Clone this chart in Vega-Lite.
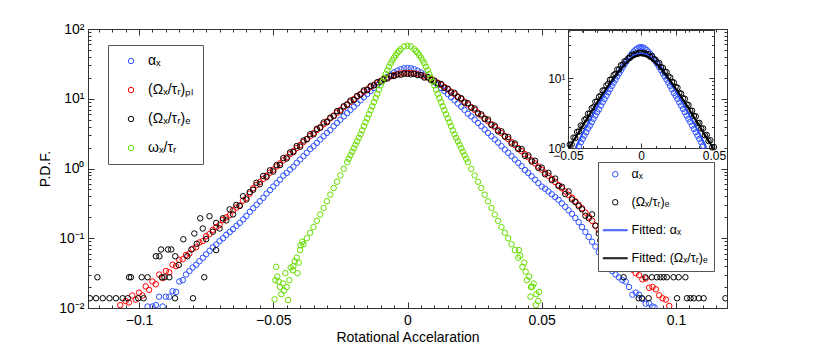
{
"$schema":"https://vega.github.io/schema/vega-lite/v6.json",
"width":639,"height":279,
"autosize":{"type":"none"},
"padding":{"left":88,"top":29,"right":103,"bottom":36},
"background":"white",
"config":{"font":"Liberation Sans","view":{"stroke":null},
 "axis":{"grid":false,"domainColor":"#333","tickColor":"#333","labelColor":"#000","titleColor":"#000","titleFontWeight":"normal","labelFontSize":14,"titleFontSize":14,"domainWidth":1,"tickWidth":1,"labelFlush":false,"labelOverlap":false,"labelBound":false}},
"datasets":{
"main":[
{"x":-0.0968,"p":0.0105,"s":"a"},{"x":-0.095,"p":0.0105,"s":"a"},{"x":-0.0937,"p":0.011,"s":"a"},{"x":-0.0925,"p":0.0145,"s":"a"},{"x":-0.0912,"p":0.0105,"s":"a"},{"x":-0.09,"p":0.0145,"s":"a"},{"x":-0.0887,"p":0.0145,"s":"a"},{"x":-0.0875,"p":0.0174,"s":"a"},{"x":-0.0862,"p":0.017,"s":"a"},{"x":-0.085,"p":0.024,"s":"a"},{"x":-0.0837,"p":0.0251,"s":"a"},{"x":-0.0825,"p":0.0302,"s":"a"},{"x":-0.0812,"p":0.0339,"s":"a"},{"x":-0.08,"p":0.038,"s":"a"},{"x":-0.0787,"p":0.0417,"s":"a"},{"x":-0.0775,"p":0.0468,"s":"a"},{"x":-0.0762,"p":0.0525,"s":"a"},{"x":-0.075,"p":0.0589,"s":"a"},{"x":-0.0737,"p":0.0661,"s":"a"},{"x":-0.0725,"p":0.0741,"s":"a"},{"x":-0.0712,"p":0.0813,"s":"a"},{"x":-0.07,"p":0.0912,"s":"a"},{"x":-0.0687,"p":0.1,"s":"a"},{"x":-0.0675,"p":0.112,"s":"a"},{"x":-0.0662,"p":0.123,"s":"a"},{"x":-0.065,"p":0.135,"s":"a"},{"x":-0.0637,"p":0.151,"s":"a"},{"x":-0.0625,"p":0.166,"s":"a"},{"x":-0.0612,"p":0.186,"s":"a"},{"x":-0.06,"p":0.209,"s":"a"},{"x":-0.0587,"p":0.24,"s":"a"},{"x":-0.0575,"p":0.269,"s":"a"},{"x":-0.0562,"p":0.302,"s":"a"},{"x":-0.055,"p":0.339,"s":"a"},{"x":-0.0537,"p":0.38,"s":"a"},{"x":-0.0525,"p":0.437,"s":"a"},{"x":-0.0512,"p":0.49,"s":"a"},
{"x":-0.05,"p":0.55,"s":"a"},{"x":-0.04875,"p":0.617,"s":"a"},{"x":-0.0475,"p":0.692,"s":"a"},{"x":-0.04625,"p":0.79,"s":"a"},{"x":-0.045,"p":0.863,"s":"a"},{"x":-0.04375,"p":0.966,"s":"a"},{"x":-0.0425,"p":1.06,"s":"a"},{"x":-0.04125,"p":1.205,"s":"a"},{"x":-0.04,"p":1.346,"s":"a"},{"x":-0.03875,"p":1.503,"s":"a"},{"x":-0.0375,"p":1.679,"s":"a"},{"x":-0.03625,"p":1.9,"s":"a"},{"x":-0.035,"p":2.089,"s":"a"},{"x":-0.03375,"p":2.333,"s":"a"},{"x":-0.0325,"p":2.606,"s":"a"},{"x":-0.03125,"p":2.904,"s":"a"},{"x":-0.03,"p":3.243,"s":"a"},{"x":-0.02875,"p":3.56,"s":"a"},{"x":-0.0275,"p":4.036,"s":"a"},{"x":-0.02625,"p":4.498,"s":"a"},{"x":-0.025,"p":5.012,"s":"a"},{"x":-0.02375,"p":5.585,"s":"a"},{"x":-0.0225,"p":6.223,"s":"a"},{"x":-0.02125,"p":6.918,"s":"a"},{"x":-0.02,"p":7.691,"s":"a"},{"x":-0.01875,"p":8.551,"s":"a"},{"x":-0.0175,"p":9.506,"s":"a"},{"x":-0.01625,"p":10.54,"s":"a"},{"x":-0.015,"p":11.67,"s":"a"},{"x":-0.01375,"p":12.91,"s":"a"},{"x":-0.0125,"p":14.26,"s":"a"},{"x":-0.01125,"p":15.7,"s":"a"},{"x":-0.01,"p":17.26,"s":"a"},{"x":-0.00875,"p":18.88,"s":"a"},{"x":-0.0075,"p":20.56,"s":"a"},{"x":-0.00625,"p":22.18,"s":"a"},{"x":-0.005,"p":23.82,"s":"a"},{"x":-0.00375,"p":25.23,"s":"a"},{"x":-0.0025,"p":26.49,"s":"a"},{"x":-0.00125,"p":27.29,"s":"a"},{"x":0,"p":27.54,"s":"a"},
{"x":0.00125,"p":27.29,"s":"a"},{"x":0.0025,"p":26.49,"s":"a"},{"x":0.00375,"p":25.23,"s":"a"},{"x":0.005,"p":23.82,"s":"a"},{"x":0.00625,"p":22.18,"s":"a"},{"x":0.0075,"p":20.56,"s":"a"},{"x":0.00875,"p":18.88,"s":"a"},{"x":0.01,"p":17.26,"s":"a"},{"x":0.01125,"p":15.7,"s":"a"},{"x":0.0125,"p":14.26,"s":"a"},{"x":0.01375,"p":12.91,"s":"a"},{"x":0.015,"p":11.67,"s":"a"},{"x":0.01625,"p":10.54,"s":"a"},{"x":0.0175,"p":9.506,"s":"a"},{"x":0.01875,"p":8.551,"s":"a"},{"x":0.02,"p":7.691,"s":"a"},{"x":0.02125,"p":6.918,"s":"a"},{"x":0.0225,"p":6.1,"s":"a"},{"x":0.02375,"p":5.585,"s":"a"},{"x":0.025,"p":5.012,"s":"a"},{"x":0.02625,"p":4.498,"s":"a"},{"x":0.0275,"p":4.036,"s":"a"},{"x":0.02875,"p":3.614,"s":"a"},{"x":0.03,"p":3.243,"s":"a"},{"x":0.03125,"p":2.904,"s":"a"},{"x":0.0325,"p":2.606,"s":"a"},{"x":0.03375,"p":2.36,"s":"a"},{"x":0.035,"p":2.089,"s":"a"},{"x":0.03625,"p":1.871,"s":"a"},{"x":0.0375,"p":1.679,"s":"a"},{"x":0.03875,"p":1.503,"s":"a"},{"x":0.04,"p":1.346,"s":"a"},{"x":0.04125,"p":1.205,"s":"a"},{"x":0.0425,"p":1.079,"s":"a"},{"x":0.04375,"p":0.95,"s":"a"},{"x":0.045,"p":0.863,"s":"a"},{"x":0.04625,"p":0.773,"s":"a"},{"x":0.0475,"p":0.692,"s":"a"},{"x":0.04875,"p":0.617,"s":"a"},{"x":0.05,"p":0.55,"s":"a"},
{"x":0.05125,"p":0.513,"s":"a"},{"x":0.0525,"p":0.468,"s":"a"},{"x":0.05375,"p":0.427,"s":"a"},{"x":0.055,"p":0.389,"s":"a"},{"x":0.05625,"p":0.355,"s":"a"},{"x":0.0575,"p":0.316,"s":"a"},{"x":0.05875,"p":0.282,"s":"a"},{"x":0.06,"p":0.251,"s":"a"},{"x":0.06125,"p":0.224,"s":"a"},{"x":0.0625,"p":0.195,"s":"a"},{"x":0.06375,"p":0.17,"s":"a"},{"x":0.065,"p":0.1445,"s":"a"},{"x":0.06625,"p":0.123,"s":"a"},{"x":0.0675,"p":0.1047,"s":"a"},{"x":0.06875,"p":0.0891,"s":"a"},{"x":0.07,"p":0.0759,"s":"a"},{"x":0.07125,"p":0.0631,"s":"a"},{"x":0.0725,"p":0.0537,"s":"a"},{"x":0.07375,"p":0.0447,"s":"a"},{"x":0.075,"p":0.038,"s":"a"},{"x":0.07625,"p":0.0339,"s":"a"},{"x":0.0775,"p":0.0302,"s":"a"},{"x":0.07875,"p":0.0275,"s":"a"},{"x":0.08,"p":0.0251,"s":"a"},{"x":0.08125,"p":0.024,"s":"a"},{"x":0.0825,"p":0.02,"s":"a"},{"x":0.08375,"p":0.0155,"s":"a"},{"x":0.085,"p":0.0166,"s":"a"},{"x":0.08625,"p":0.0155,"s":"a"},{"x":0.0875,"p":0.0135,"s":"a"},{"x":0.08875,"p":0.0115,"s":"a"},{"x":0.09,"p":0.0117,"s":"a"},{"x":0.09125,"p":0.0105,"s":"a"},{"x":0.092,"p":0.0102,"s":"a"},
{"x":-0.107,"p":0.011,"s":"pl"},{"x":-0.105,"p":0.0126,"s":"pl"},{"x":-0.10375,"p":0.012,"s":"pl"},{"x":-0.1025,"p":0.0151,"s":"pl"},{"x":-0.10125,"p":0.0132,"s":"pl"},{"x":-0.1,"p":0.0166,"s":"pl"},{"x":-0.09875,"p":0.0151,"s":"pl"},{"x":-0.0975,"p":0.0204,"s":"pl"},{"x":-0.09625,"p":0.0182,"s":"pl"},{"x":-0.095,"p":0.024,"s":"pl"},{"x":-0.09375,"p":0.0219,"s":"pl"},{"x":-0.0925,"p":0.0302,"s":"pl"},{"x":-0.09125,"p":0.0269,"s":"pl"},{"x":-0.09,"p":0.0339,"s":"pl"},{"x":-0.08875,"p":0.0324,"s":"pl"},{"x":-0.0875,"p":0.0417,"s":"pl"},{"x":-0.08625,"p":0.0398,"s":"pl"},{"x":-0.085,"p":0.049,"s":"pl"},{"x":-0.08375,"p":0.0501,"s":"pl"},{"x":-0.0825,"p":0.0575,"s":"pl"},{"x":-0.08125,"p":0.0603,"s":"pl"},{"x":-0.08,"p":0.0708,"s":"pl"},{"x":-0.07875,"p":0.0741,"s":"pl"},{"x":-0.0775,"p":0.0871,"s":"pl"},{"x":-0.07625,"p":0.0912,"s":"pl"},{"x":-0.075,"p":0.107,"s":"pl"},{"x":-0.07375,"p":0.115,"s":"pl"},{"x":-0.0725,"p":0.132,"s":"pl"},{"x":-0.07125,"p":0.1445,"s":"pl"},{"x":-0.07,"p":0.155,"s":"pl"},{"x":-0.06875,"p":0.182,"s":"pl"},{"x":-0.0675,"p":0.1995,"s":"pl"},{"x":-0.06625,"p":0.214,"s":"pl"},{"x":-0.065,"p":0.251,"s":"pl"},{"x":-0.06375,"p":0.275,"s":"pl"},{"x":-0.0625,"p":0.295,"s":"pl"},{"x":-0.06125,"p":0.347,"s":"pl"},{"x":-0.06,"p":0.38,"s":"pl"},{"x":-0.05875,"p":0.437,"s":"pl"},
{"x":-0.0575,"p":0.521,"s":"pl"},{"x":-0.05625,"p":0.578,"s":"pl"},{"x":-0.055,"p":0.64,"s":"pl"},{"x":-0.05375,"p":0.71,"s":"pl"},{"x":-0.0525,"p":0.787,"s":"pl"},{"x":-0.05125,"p":0.871,"s":"pl"},{"x":-0.05,"p":0.964,"s":"pl"},{"x":-0.04875,"p":1.069,"s":"pl"},{"x":-0.0475,"p":1.183,"s":"pl"},{"x":-0.04625,"p":1.309,"s":"pl"},{"x":-0.045,"p":1.449,"s":"pl"},{"x":-0.04375,"p":1.603,"s":"pl"},{"x":-0.0425,"p":1.774,"s":"pl"},{"x":-0.04125,"p":1.963,"s":"pl"},{"x":-0.04,"p":2.168,"s":"pl"},{"x":-0.03875,"p":2.399,"s":"pl"},{"x":-0.0375,"p":2.649,"s":"pl"},{"x":-0.03625,"p":2.924,"s":"pl"},{"x":-0.035,"p":3.221,"s":"pl"},{"x":-0.03375,"p":3.556,"s":"pl"},{"x":-0.0325,"p":3.917,"s":"pl"},{"x":-0.03125,"p":4.315,"s":"pl"},{"x":-0.03,"p":4.753,"s":"pl"},{"x":-0.02875,"p":5.224,"s":"pl"},{"x":-0.0275,"p":5.741,"s":"pl"},{"x":-0.02625,"p":6.31,"s":"pl"},{"x":-0.025,"p":6.918,"s":"pl"},{"x":-0.02375,"p":7.586,"s":"pl"},{"x":-0.0225,"p":8.299,"s":"pl"},{"x":-0.02125,"p":9.057,"s":"pl"},{"x":-0.02,"p":9.886,"s":"pl"},{"x":-0.01875,"p":10.76,"s":"pl"},{"x":-0.0175,"p":11.69,"s":"pl"},{"x":-0.01625,"p":12.65,"s":"pl"},{"x":-0.015,"p":13.68,"s":"pl"},{"x":-0.01375,"p":14.76,"s":"pl"},{"x":-0.0125,"p":15.85,"s":"pl"},{"x":-0.01125,"p":16.94,"s":"pl"},{"x":-0.01,"p":18.03,"s":"pl"},{"x":-0.00875,"p":19.1,"s":"pl"},{"x":-0.0075,"p":20.09,"s":"pl"},{"x":-0.00625,"p":20.99,"s":"pl"},{"x":-0.005,"p":21.83,"s":"pl"},{"x":-0.00375,"p":22.49,"s":"pl"},{"x":-0.0025,"p":23.01,"s":"pl"},{"x":-0.00125,"p":23.33,"s":"pl"},{"x":0,"p":23.44,"s":"pl"},
{"x":0.00125,"p":23.33,"s":"pl"},{"x":0.0025,"p":23.01,"s":"pl"},{"x":0.00375,"p":22.49,"s":"pl"},{"x":0.005,"p":21.83,"s":"pl"},{"x":0.00625,"p":20.99,"s":"pl"},{"x":0.0075,"p":20.09,"s":"pl"},{"x":0.00875,"p":19.1,"s":"pl"},{"x":0.01,"p":18.03,"s":"pl"},{"x":0.01125,"p":16.94,"s":"pl"},{"x":0.0125,"p":15.85,"s":"pl"},{"x":0.01375,"p":14.76,"s":"pl"},{"x":0.015,"p":13.68,"s":"pl"},{"x":0.01625,"p":12.65,"s":"pl"},{"x":0.0175,"p":11.69,"s":"pl"},{"x":0.01875,"p":10.76,"s":"pl"},{"x":0.02,"p":9.886,"s":"pl"},{"x":0.02125,"p":9.057,"s":"pl"},{"x":0.0225,"p":8.299,"s":"pl"},{"x":0.02375,"p":7.586,"s":"pl"},{"x":0.025,"p":6.918,"s":"pl"},{"x":0.02625,"p":6.31,"s":"pl"},{"x":0.0275,"p":5.741,"s":"pl"},{"x":0.02875,"p":5.224,"s":"pl"},{"x":0.03,"p":4.753,"s":"pl"},{"x":0.03125,"p":4.315,"s":"pl"},{"x":0.0325,"p":3.917,"s":"pl"},{"x":0.03375,"p":3.556,"s":"pl"},{"x":0.035,"p":3.221,"s":"pl"},{"x":0.03625,"p":2.924,"s":"pl"},{"x":0.0375,"p":2.649,"s":"pl"},{"x":0.03875,"p":2.399,"s":"pl"},{"x":0.04,"p":2.168,"s":"pl"},{"x":0.04125,"p":1.963,"s":"pl"},{"x":0.0425,"p":1.774,"s":"pl"},{"x":0.04375,"p":1.603,"s":"pl"},{"x":0.045,"p":1.449,"s":"pl"},{"x":0.04625,"p":1.309,"s":"pl"},{"x":0.0475,"p":1.183,"s":"pl"},{"x":0.04875,"p":1.069,"s":"pl"},{"x":0.05,"p":0.964,"s":"pl"},{"x":0.05125,"p":0.871,"s":"pl"},{"x":0.0525,"p":0.787,"s":"pl"},{"x":0.05375,"p":0.71,"s":"pl"},{"x":0.055,"p":0.64,"s":"pl"},{"x":0.05625,"p":0.578,"s":"pl"},{"x":0.0575,"p":0.521,"s":"pl"},
{"x":0.05875,"p":0.468,"s":"pl"},{"x":0.06,"p":0.417,"s":"pl"},{"x":0.06125,"p":0.38,"s":"pl"},{"x":0.0625,"p":0.339,"s":"pl"},{"x":0.06375,"p":0.302,"s":"pl"},{"x":0.065,"p":0.269,"s":"pl"},{"x":0.06625,"p":0.234,"s":"pl"},{"x":0.0675,"p":0.204,"s":"pl"},{"x":0.06875,"p":0.178,"s":"pl"},{"x":0.07,"p":0.151,"s":"pl"},{"x":0.07125,"p":0.132,"s":"pl"},{"x":0.0725,"p":0.112,"s":"pl"},{"x":0.07375,"p":0.0977,"s":"pl"},{"x":0.075,"p":0.0851,"s":"pl"},{"x":0.07625,"p":0.0759,"s":"pl"},{"x":0.0775,"p":0.0661,"s":"pl"},{"x":0.07875,"p":0.0589,"s":"pl"},{"x":0.08,"p":0.0513,"s":"pl"},{"x":0.08125,"p":0.0468,"s":"pl"},{"x":0.0825,"p":0.043,"s":"pl"},{"x":0.08375,"p":0.0355,"s":"pl"},{"x":0.085,"p":0.0316,"s":"pl"},{"x":0.08625,"p":0.0295,"s":"pl"},{"x":0.0875,"p":0.0257,"s":"pl"},{"x":0.08875,"p":0.0265,"s":"pl"},{"x":0.09,"p":0.0195,"s":"pl"},{"x":0.09125,"p":0.02,"s":"pl"},{"x":0.0925,"p":0.0185,"s":"pl"},{"x":0.09375,"p":0.0152,"s":"pl"},{"x":0.095,"p":0.0138,"s":"pl"},{"x":0.09625,"p":0.0132,"s":"pl"},{"x":0.0975,"p":0.0107,"s":"pl"},
{"x":-0.1183,"p":0.0138,"s":"e"},{"x":-0.116,"p":0.0138,"s":"e"},{"x":-0.1155,"p":0.0276,"s":"e"},{"x":-0.1135,"p":0.0138,"s":"e"},{"x":-0.111,"p":0.0138,"s":"e"},{"x":-0.1086,"p":0.0138,"s":"e"},{"x":-0.1061,"p":0.0138,"s":"e"},{"x":-0.1042,"p":0.0138,"s":"e"},{"x":-0.1037,"p":0.0276,"s":"e"},{"x":-0.103,"p":0.0276,"s":"e"},{"x":-0.1003,"p":0.0138,"s":"e"},{"x":-0.099,"p":0.0276,"s":"e"},{"x":-0.0983,"p":0.0138,"s":"e"},{"x":-0.0968,"p":0.0276,"s":"e"},{"x":-0.0937,"p":0.0552,"s":"e"},{"x":-0.0924,"p":0.0552,"s":"e"},{"x":-0.0918,"p":0.069,"s":"e"},{"x":-0.0915,"p":0.0276,"s":"e"},{"x":-0.0905,"p":0.0276,"s":"e"},{"x":-0.0892,"p":0.069,"s":"e"},{"x":-0.0887,"p":0.0276,"s":"e"},{"x":-0.088,"p":0.069,"s":"e"},{"x":-0.0866,"p":0.0138,"s":"e"},{"x":-0.0865,"p":0.0552,"s":"e"},{"x":-0.0852,"p":0.0414,"s":"e"},{"x":-0.0835,"p":0.0966,"s":"e"},{"x":-0.082,"p":0.0552,"s":"e"},{"x":-0.0805,"p":0.069,"s":"e"},{"x":-0.0799,"p":0.0138,"s":"e"},{"x":-0.0794,"p":0.117,"s":"e"},{"x":-0.0785,"p":0.083,"s":"e"},{"x":-0.0772,"p":0.193,"s":"e"},{"x":-0.07625,"p":0.138,"s":"e"},{"x":-0.0757,"p":0.0276,"s":"e"},{"x":-0.075,"p":0.097,"s":"e"},{"x":-0.07375,"p":0.207,"s":"e"},{"x":-0.0725,"p":0.124,"s":"e"},{"x":-0.0713,"p":0.0676,"s":"e"},{"x":-0.07125,"p":0.166,"s":"e"},{"x":-0.07,"p":0.138,"s":"e"},{"x":-0.06875,"p":0.193,"s":"e"},{"x":-0.0675,"p":0.18,"s":"e"},{"x":-0.06625,"p":0.26,"s":"e"},{"x":-0.065,"p":0.22,"s":"e"},{"x":-0.06375,"p":0.3,"s":"e"},{"x":-0.0625,"p":0.29,"s":"e"},{"x":-0.06125,"p":0.4,"s":"e"},{"x":-0.06,"p":0.36,"s":"e"},{"x":-0.05875,"p":0.46,"s":"e"},
{"x":-0.0575,"p":0.495,"s":"e"},{"x":-0.05625,"p":0.624,"s":"e"},{"x":-0.055,"p":0.595,"s":"e"},{"x":-0.05375,"p":0.781,"s":"e"},{"x":-0.0525,"p":0.755,"s":"e"},{"x":-0.05125,"p":0.941,"s":"e"},{"x":-0.05,"p":0.906,"s":"e"},{"x":-0.04875,"p":1.12,"s":"e"},{"x":-0.0475,"p":1.12,"s":"e"},{"x":-0.04625,"p":1.41,"s":"e"},{"x":-0.045,"p":1.39,"s":"e"},{"x":-0.04375,"p":1.7,"s":"e"},{"x":-0.0425,"p":1.72,"s":"e"},{"x":-0.04125,"p":2.1,"s":"e"},{"x":-0.04,"p":2.06,"s":"e"},{"x":-0.03875,"p":2.52,"s":"e"},{"x":-0.0375,"p":2.62,"s":"e"},{"x":-0.03625,"p":3.1,"s":"e"},{"x":-0.035,"p":3.09,"s":"e"},{"x":-0.03375,"p":3.7,"s":"e"},{"x":-0.0325,"p":3.84,"s":"e"},{"x":-0.03125,"p":4.57,"s":"e"},{"x":-0.03,"p":4.61,"s":"e"},{"x":-0.02875,"p":5.38,"s":"e"},{"x":-0.0275,"p":5.63,"s":"e"},{"x":-0.02625,"p":6.63,"s":"e"},{"x":-0.025,"p":6.64,"s":"e"},{"x":-0.02375,"p":7.81,"s":"e"},{"x":-0.0225,"p":8.22,"s":"e"},{"x":-0.02125,"p":9.42,"s":"e"},{"x":-0.02,"p":9.59,"s":"e"},{"x":-0.01875,"p":10.98,"s":"e"},{"x":-0.0175,"p":11.46,"s":"e"},{"x":-0.01625,"p":13.16,"s":"e"},{"x":-0.015,"p":13.27,"s":"e"},{"x":-0.01375,"p":15.2,"s":"e"},{"x":-0.0125,"p":15.53,"s":"e"},{"x":-0.01125,"p":17.28,"s":"e"},{"x":-0.01,"p":17.67,"s":"e"},{"x":-0.00875,"p":19.1,"s":"e"},{"x":-0.0075,"p":19.49,"s":"e"},{"x":-0.00625,"p":21.2,"s":"e"},{"x":-0.005,"p":21.18,"s":"e"},{"x":-0.00375,"p":22.27,"s":"e"},{"x":-0.0025,"p":22.09,"s":"e"},{"x":-0.00125,"p":22.86,"s":"e"},{"x":0,"p":22.74,"s":"e"},
{"x":0.00125,"p":22.4,"s":"e"},{"x":0.0025,"p":22.78,"s":"e"},{"x":0.00375,"p":21.82,"s":"e"},{"x":0.005,"p":21.83,"s":"e"},{"x":0.00625,"p":20.15,"s":"e"},{"x":0.0075,"p":20.49,"s":"e"},{"x":0.00875,"p":18.53,"s":"e"},{"x":0.01,"p":18.21,"s":"e"},{"x":0.01125,"p":16.6,"s":"e"},{"x":0.0125,"p":16.33,"s":"e"},{"x":0.01375,"p":14.32,"s":"e"},{"x":0.015,"p":13.95,"s":"e"},{"x":0.01625,"p":12.27,"s":"e"},{"x":0.0175,"p":12.16,"s":"e"},{"x":0.01875,"p":10.54,"s":"e"},{"x":0.02,"p":10.18,"s":"e"},{"x":0.02125,"p":8.79,"s":"e"},{"x":0.0225,"p":8.63,"s":"e"},{"x":0.02375,"p":7.43,"s":"e"},{"x":0.025,"p":7.26,"s":"e"},{"x":0.02625,"p":6.12,"s":"e"},{"x":0.0275,"p":5.97,"s":"e"},{"x":0.02875,"p":5.12,"s":"e"},{"x":0.03,"p":5.04,"s":"e"},{"x":0.03125,"p":4.19,"s":"e"},{"x":0.0325,"p":4.11,"s":"e"},{"x":0.03375,"p":3.41,"s":"e"},{"x":0.035,"p":3.41,"s":"e"},{"x":0.03625,"p":2.87,"s":"e"},{"x":0.0375,"p":2.83,"s":"e"},{"x":0.03875,"p":2.28,"s":"e"},{"x":0.04,"p":2.28,"s":"e"},{"x":0.04125,"p":1.9,"s":"e"},{"x":0.0425,"p":1.9,"s":"e"},{"x":0.04375,"p":1.52,"s":"e"},{"x":0.045,"p":1.54,"s":"e"},{"x":0.04625,"p":1.26,"s":"e"},{"x":0.0475,"p":1.29,"s":"e"},{"x":0.04875,"p":1.02,"s":"e"},{"x":0.05,"p":1.03,"s":"e"},{"x":0.05125,"p":0.827,"s":"e"},{"x":0.0525,"p":0.866,"s":"e"},{"x":0.05375,"p":0.682,"s":"e"},{"x":0.055,"p":0.717,"s":"e"},{"x":0.05625,"p":0.561,"s":"e"},{"x":0.0575,"p":0.547,"s":"e"},
{"x":0.05875,"p":0.43,"s":"e"},{"x":0.06,"p":0.47,"s":"e"},{"x":0.06125,"p":0.36,"s":"e"},{"x":0.0625,"p":0.33,"s":"e"},{"x":0.06375,"p":0.29,"s":"e"},{"x":0.065,"p":0.26,"s":"e"},{"x":0.06625,"p":0.21,"s":"e"},{"x":0.0675,"p":0.193,"s":"e"},{"x":0.06875,"p":0.22,"s":"e"},{"x":0.07,"p":0.152,"s":"e"},{"x":0.07125,"p":0.117,"s":"e"},{"x":0.0718,"p":0.093,"s":"e"},{"x":0.0725,"p":0.124,"s":"e"},{"x":0.07375,"p":0.11,"s":"e"},{"x":0.075,"p":0.083,"s":"e"},{"x":0.0765,"p":0.097,"s":"e"},{"x":0.0775,"p":0.069,"s":"e"},{"x":0.079,"p":0.0552,"s":"e"},{"x":0.0795,"p":0.046,"s":"e"},{"x":0.0805,"p":0.0276,"s":"e"},{"x":0.0815,"p":0.0552,"s":"e"},{"x":0.083,"p":0.0414,"s":"e"},{"x":0.0845,"p":0.0414,"s":"e"},{"x":0.0861,"p":0.0138,"s":"e"},{"x":0.0873,"p":0.0138,"s":"e"},{"x":0.0886,"p":0.0276,"s":"e"},{"x":0.0898,"p":0.0138,"s":"e"},{"x":0.091,"p":0.0276,"s":"e"},{"x":0.0929,"p":0.0276,"s":"e"},{"x":0.0942,"p":0.0276,"s":"e"},{"x":0.0954,"p":0.0276,"s":"e"},{"x":0.0966,"p":0.0276,"s":"e"},{"x":0.0991,"p":0.0276,"s":"e"},{"x":0.1004,"p":0.0138,"s":"e"},{"x":0.101,"p":0.0276,"s":"e"},{"x":0.1035,"p":0.0276,"s":"e"},{"x":0.1041,"p":0.0138,"s":"e"},{"x":0.1054,"p":0.0138,"s":"e"},{"x":0.1066,"p":0.0138,"s":"e"},{"x":0.1085,"p":0.0138,"s":"e"},{"x":0.1103,"p":0.0138,"s":"e"},{"x":0.1184,"p":0.0138,"s":"e"},
{"x":-0.0495,"p":0.0133,"s":"w"},{"x":-0.0492,"p":0.0251,"s":"w"},{"x":-0.0489,"p":0.0389,"s":"w"},{"x":-0.0485,"p":0.0282,"s":"w"},{"x":-0.048,"p":0.024,"s":"w"},{"x":-0.0475,"p":0.02,"s":"w"},{"x":-0.047,"p":0.0158,"s":"w"},{"x":-0.0464,"p":0.0224,"s":"w"},{"x":-0.046,"p":0.0178,"s":"w"},{"x":-0.0455,"p":0.0316,"s":"w"},{"x":-0.045,"p":0.02,"s":"w"},{"x":-0.0445,"p":0.013,"s":"w"},{"x":-0.044,"p":0.0251,"s":"w"},{"x":-0.0435,"p":0.038,"s":"w"},{"x":-0.0427,"p":0.0347,"s":"w"},{"x":-0.042,"p":0.0468,"s":"w"},{"x":-0.041,"p":0.0316,"s":"w"},{"x":-0.0405,"p":0.0447,"s":"w"},{"x":-0.0398,"p":0.0794,"s":"w"},{"x":-0.0392,"p":0.0891,"s":"w"},
{"x":-0.0425,"p":0.0398,"s":"w"},{"x":-0.04125,"p":0.0525,"s":"w"},{"x":-0.04,"p":0.0676,"s":"w"},{"x":-0.03875,"p":0.0822,"s":"w"},{"x":-0.0375,"p":0.1,"s":"w"},{"x":-0.03625,"p":0.12,"s":"w"},{"x":-0.035,"p":0.1445,"s":"w"},{"x":-0.03375,"p":0.178,"s":"w"},{"x":-0.0325,"p":0.219,"s":"w"},{"x":-0.03125,"p":0.272,"s":"w"},{"x":-0.03,"p":0.339,"s":"w"},{"x":-0.02875,"p":0.422,"s":"w"},{"x":-0.0275,"p":0.525,"s":"w"},{"x":-0.02625,"p":0.646,"s":"w"},{"x":-0.025,"p":0.794,"s":"w"},{"x":-0.02375,"p":0.989,"s":"w"},{"x":-0.0225,"p":1.23,"s":"w"},{"x":-0.021875,"p":1.38,"s":"w"},{"x":-0.02125,"p":1.549,"s":"w"},{"x":-0.020625,"p":1.738,"s":"w"},{"x":-0.02,"p":1.95,"s":"w"},{"x":-0.019375,"p":2.188,"s":"w"},{"x":-0.01875,"p":2.455,"s":"w"},{"x":-0.018125,"p":2.754,"s":"w"},{"x":-0.0175,"p":3.09,"s":"w"},{"x":-0.016875,"p":3.528,"s":"w"},{"x":-0.01625,"p":4.027,"s":"w"},{"x":-0.015625,"p":4.597,"s":"w"},{"x":-0.015,"p":5.248,"s":"w"},{"x":-0.014375,"p":5.992,"s":"w"},{"x":-0.01375,"p":6.839,"s":"w"},{"x":-0.013125,"p":7.808,"s":"w"},{"x":-0.0125,"p":8.913,"s":"w"},{"x":-0.011875,"p":10.23,"s":"w"},{"x":-0.01125,"p":11.75,"s":"w"},{"x":-0.010625,"p":13.49,"s":"w"},{"x":-0.01,"p":15.49,"s":"w"},{"x":-0.009375,"p":17.58,"s":"w"},{"x":-0.00875,"p":19.95,"s":"w"},{"x":-0.008125,"p":22.65,"s":"w"},{"x":-0.0075,"p":25.7,"s":"w"},{"x":-0.006875,"p":28.84,"s":"w"},{"x":-0.00625,"p":32.36,"s":"w"},{"x":-0.005625,"p":35.48,"s":"w"},{"x":-0.005,"p":38.9,"s":"w"},{"x":-0.004375,"p":42.17,"s":"w"},{"x":-0.00375,"p":45.71,"s":"w"},{"x":-0.003125,"p":48.42,"s":"w"},{"x":-0.0025,"p":51.29,"s":"w"},{"x":-0.00125,"p":56.23,"s":"w"},{"x":0,"p":57.54,"s":"w"},
{"x":0.00125,"p":56.23,"s":"w"},{"x":0.0025,"p":51.29,"s":"w"},{"x":0.003125,"p":48.42,"s":"w"},{"x":0.00375,"p":45.71,"s":"w"},{"x":0.004375,"p":42.17,"s":"w"},{"x":0.005,"p":38.9,"s":"w"},{"x":0.005625,"p":35.48,"s":"w"},{"x":0.00625,"p":32.36,"s":"w"},{"x":0.006875,"p":28.84,"s":"w"},{"x":0.0075,"p":25.7,"s":"w"},{"x":0.008125,"p":22.65,"s":"w"},{"x":0.00875,"p":19.95,"s":"w"},{"x":0.009375,"p":17.58,"s":"w"},{"x":0.01,"p":15.49,"s":"w"},{"x":0.010625,"p":13.49,"s":"w"},{"x":0.01125,"p":11.75,"s":"w"},{"x":0.011875,"p":10.23,"s":"w"},{"x":0.0125,"p":8.913,"s":"w"},{"x":0.013125,"p":7.808,"s":"w"},{"x":0.01375,"p":6.839,"s":"w"},{"x":0.014375,"p":5.992,"s":"w"},{"x":0.015,"p":5.248,"s":"w"},{"x":0.015625,"p":4.597,"s":"w"},{"x":0.01625,"p":4.027,"s":"w"},{"x":0.016875,"p":3.528,"s":"w"},{"x":0.0175,"p":3.09,"s":"w"},{"x":0.018125,"p":2.754,"s":"w"},{"x":0.01875,"p":2.455,"s":"w"},{"x":0.019375,"p":2.188,"s":"w"},{"x":0.02,"p":1.95,"s":"w"},{"x":0.020625,"p":1.738,"s":"w"},{"x":0.02125,"p":1.549,"s":"w"},{"x":0.021875,"p":1.38,"s":"w"},{"x":0.0225,"p":1.23,"s":"w"},{"x":0.02375,"p":0.989,"s":"w"},{"x":0.025,"p":0.794,"s":"w"},{"x":0.02625,"p":0.646,"s":"w"},{"x":0.0275,"p":0.525,"s":"w"},{"x":0.02875,"p":0.422,"s":"w"},{"x":0.03,"p":0.339,"s":"w"},{"x":0.03125,"p":0.272,"s":"w"},{"x":0.0325,"p":0.219,"s":"w"},{"x":0.03375,"p":0.178,"s":"w"},{"x":0.035,"p":0.1445,"s":"w"},{"x":0.03625,"p":0.12,"s":"w"},{"x":0.0375,"p":0.1,"s":"w"},{"x":0.03875,"p":0.0822,"s":"w"},{"x":0.04,"p":0.0676,"s":"w"},{"x":0.04125,"p":0.0525,"s":"w"},
{"x":0.0415,"p":0.0676,"s":"w"},{"x":0.042,"p":0.0562,"s":"w"},{"x":0.0428,"p":0.0389,"s":"w"},{"x":0.0435,"p":0.0447,"s":"w"},{"x":0.044,"p":0.0331,"s":"w"},{"x":0.0445,"p":0.0251,"s":"w"},{"x":0.0453,"p":0.0282,"s":"w"},{"x":0.0458,"p":0.0145,"s":"w"},{"x":0.046,"p":0.02,"s":"w"},{"x":0.0465,"p":0.0202,"s":"w"},{"x":0.047,"p":0.0224,"s":"w"},{"x":0.0478,"p":0.011,"s":"w"},{"x":0.048,"p":0.0158,"s":"w"},{"x":0.0487,"p":0.0126,"s":"w"},{"x":0.049,"p":0.017,"s":"w"}
],
"fit":[
{"x":-0.0447,"p":1.0,"s":"fa"},{"x":-0.04,"p":1.61,"s":"fa"},{"x":-0.035,"p":2.5,"s":"fa"},{"x":-0.03,"p":3.85,"s":"fa"},{"x":-0.025,"p":5.85,"s":"fa"},{"x":-0.02,"p":8.69,"s":"fa"},{"x":-0.015,"p":12.45,"s":"fa"},{"x":-0.01,"p":16.9,"s":"fa"},{"x":-0.005,"p":20.94,"s":"fa"},{"x":0,"p":22.65,"s":"fa"},{"x":0.005,"p":20.94,"s":"fa"},{"x":0.01,"p":16.9,"s":"fa"},{"x":0.015,"p":12.45,"s":"fa"},{"x":0.02,"p":8.69,"s":"fa"},{"x":0.025,"p":5.85,"s":"fa"},{"x":0.03,"p":3.85,"s":"fa"},{"x":0.035,"p":2.5,"s":"fa"},{"x":0.04,"p":1.61,"s":"fa"},{"x":0.0447,"p":1.0,"s":"fa"},
{"x":-0.0494,"p":1.0,"s":"fe"},{"x":-0.045,"p":1.4,"s":"fe"},{"x":-0.04,"p":2.07,"s":"fe"},{"x":-0.035,"p":3.05,"s":"fe"},{"x":-0.03,"p":4.48,"s":"fe"},{"x":-0.025,"p":6.46,"s":"fe"},{"x":-0.02,"p":9.18,"s":"fe"},{"x":-0.015,"p":12.59,"s":"fe"},{"x":-0.01,"p":16.52,"s":"fe"},{"x":-0.005,"p":19.95,"s":"fe"},{"x":0,"p":21.38,"s":"fe"},{"x":0.005,"p":19.95,"s":"fe"},{"x":0.01,"p":16.52,"s":"fe"},{"x":0.015,"p":12.59,"s":"fe"},{"x":0.02,"p":9.18,"s":"fe"},{"x":0.025,"p":6.46,"s":"fe"},{"x":0.03,"p":4.48,"s":"fe"},{"x":0.035,"p":3.05,"s":"fe"},{"x":0.04,"p":2.07,"s":"fe"},{"x":0.045,"p":1.4,"s":"fe"},{"x":0.0494,"p":1.0,"s":"fe"}
]
},
"layer":[
 {
  "layer":[
   {
    "data":{"name":"main"},
    "mark":{"type":"point","filled":false,"size":30,"strokeWidth":1,"opacity":1,"clip":true},
    "encoding":{
     "x":{"field":"x","type":"quantitative","scale":{"domain":[-0.119,0.119],"nice":false,"zero":false},
      "axis":{"orient":"bottom","title":"Rotational Accelaration","titlePadding":0,"labelPadding":11,
       "values":[-0.115,-0.11,-0.105,-0.1,-0.095,-0.09,-0.085,-0.08,-0.075,-0.07,-0.065,-0.06,-0.055,-0.05,-0.045,-0.04,-0.035,-0.03,-0.025,-0.02,-0.015,-0.01,-0.005,0,0.005,0.01,0.015,0.02,0.025,0.03,0.035,0.04,0.045,0.05,0.055,0.06,0.065,0.07,0.075,0.08,0.085,0.09,0.095,0.1,0.105,0.11,0.115],
       "labelExpr":"datum.value==-0.1?'−0.1':datum.value==-0.05?'−0.05':datum.value==0?'0':datum.value==0.05?'0.05':datum.value==0.1?'0.1':''",
       "tickSize":{"condition":{"test":"indexof([-0.1,-0.05,0,0.05,0.1], datum.value) >= 0","value":-6},"value":-3}}},
     "y":{"field":"p","type":"quantitative","scale":{"type":"log","domain":[0.01,100],"nice":false},
      "axis":{"orient":"left","title":"P.D.F.","titlePadding":6,"labelPadding":10,
       "values":[0.01,0.02,0.03,0.04,0.05,0.06,0.07,0.08,0.09,0.1,0.2,0.3,0.4,0.5,0.6,0.7,0.8,0.9,1,2,3,4,5,6,7,8,9,10,20,30,40,50,60,70,80,90,100],
       "labelExpr":"datum.value==0.01?'10⁻²':datum.value==0.1?'10⁻¹':datum.value==1?'10⁰':datum.value==10?'10¹':datum.value==100?'10²':''",
       "tickSize":{"condition":{"test":"indexof([0.01,0.1,1,10,100], datum.value) >= 0","value":-6},"value":-3}}},
     "color":{"field":"s","type":"nominal","sort":null,
      "scale":{"domain":["a","pl","e","w"],"range":["#2b50ff","#ff0000","#000000","#66dd00"]},
      "legend":{"orient":"none","legendX":20,"legendY":16,"title":null,
       "labelExpr":"datum.value=='a'?'αₓ':datum.value=='pl'?'(Ωₓ/τᵣ)ₚₗ':datum.value=='e'?'(Ωₓ/τᵣ)ₑ':'ωₓ/τᵣ'",
       "labelFontSize":14,"labelColor":"#000","strokeColor":"#555","fillColor":"white","padding":9,"rowPadding":15,"symbolOffset":7,"labelOffset":10,"symbolSize":30,"symbolStrokeWidth":1,"labelLimit":300}}
    }
   },
   {
    "data":{"values":[{"x":0,"p":1}]},
    "mark":{"type":"point","opacity":0},
    "encoding":{
     "x":{"field":"x","type":"quantitative",
      "axis":{"orient":"top","title":null,"labels":false,
       "values":[-0.115,-0.11,-0.105,-0.1,-0.095,-0.09,-0.085,-0.08,-0.075,-0.07,-0.065,-0.06,-0.055,-0.05,-0.045,-0.04,-0.035,-0.03,-0.025,-0.02,-0.015,-0.01,-0.005,0,0.005,0.01,0.015,0.02,0.025,0.03,0.035,0.04,0.045,0.05,0.055,0.06,0.065,0.07,0.075,0.08,0.085,0.09,0.095,0.1,0.105,0.11,0.115],
       "tickSize":{"condition":{"test":"indexof([-0.1,-0.05,0,0.05,0.1], datum.value) >= 0","value":-6},"value":-3}}},
     "y":{"field":"p","type":"quantitative",
      "axis":{"orient":"right","title":null,"labels":false,
       "values":[0.01,0.02,0.03,0.04,0.05,0.06,0.07,0.08,0.09,0.1,0.2,0.3,0.4,0.5,0.6,0.7,0.8,0.9,1,2,3,4,5,6,7,8,9,10,20,30,40,50,60,70,80,90,100],
       "tickSize":{"condition":{"test":"indexof([0.01,0.1,1,10,100], datum.value) >= 0","value":-6},"value":-3}}}
    }
   }
  ],
  "resolve":{"axis":{"x":"independent","y":"independent"}}
 },
 {
  "layer":[
   {
    "data":{"name":"main"},
    "transform":[{"filter":{"field":"s","oneOf":["a","e"]}},{"filter":"datum.x >= -0.0505 && datum.x <= 0.0505 && datum.p >= 1"}],
    "mark":{"type":"point","filled":false,"size":30,"strokeWidth":1,"opacity":1,"clip":true},
    "encoding":{
     "x":{"field":"x","type":"quantitative","scale":{"domain":[-0.05,0.05],"nice":false,"zero":false,"range":[480,626]},
      "axis":{"orient":"bottom","offset":-160,"title":null,"labelFontSize":12,"labelPadding":7,
       "values":[-0.05,-0.04,-0.03,-0.02,-0.01,0,0.01,0.02,0.03,0.04,0.05],
       "labelExpr":"datum.value==-0.05?'−0.05':datum.value==0?'0':datum.value==0.05?'0.05':''",
       "tickSize":{"condition":{"test":"indexof([-0.05,0,0.05], datum.value) >= 0","value":-5},"value":-2.5}}},
     "y":{"field":"p","type":"quantitative","scale":{"type":"log","domain":[1,48.5],"nice":false,"range":[119,1]},
      "axis":{"orient":"left","offset":-480,"title":null,"labelFontSize":12,"labelPadding":8,
       "values":[1,2,3,4,5,6,7,8,9,10,20,30,40],
       "labelExpr":"datum.value==1?'10⁰':datum.value==10?'10¹':''",
       "tickSize":{"condition":{"test":"indexof([1,10], datum.value) >= 0","value":-5},"value":-2.5}}},
     "color":{"field":"s","type":"nominal","sort":null,
      "scale":{"domain":["a","e","fa","fe"],"range":["#2b50ff","#000000","#2b50ff","#000000"]},
      "legend":{"orient":"none","legendX":510,"legendY":133,"title":null,
       "labelExpr":"datum.value=='a'?'αₓ':datum.value=='e'?'(Ωₓ/τᵣ)ₑ':datum.value=='fa'?'Fitted: αₓ':'Fitted: (Ωₓ/τᵣ)ₑ'",
       "labelFontSize":12.5,"labelColor":"#000","strokeColor":"#555","fillColor":"white","padding":6,"rowPadding":15,"symbolOffset":5,"labelOffset":10,"symbolSize":30,"symbolStrokeWidth":1,"labelLimit":300}},
     "shape":{"field":"s","type":"nominal","sort":null,
      "scale":{"domain":["a","e","fa","fe"],"range":["circle","circle","M-4.4,-0.18H4.4V0.18H-4.4Z","M-4.4,-0.18H4.4V0.18H-4.4Z"]},
      "legend":{"orient":"none","legendX":510,"legendY":133,"title":null,
       "labelExpr":"datum.value=='a'?'αₓ':datum.value=='e'?'(Ωₓ/τᵣ)ₑ':datum.value=='fa'?'Fitted: αₓ':'Fitted: (Ωₓ/τᵣ)ₑ'",
       "labelFontSize":12.5,"labelColor":"#000","strokeColor":"#555","fillColor":"white","padding":6,"rowPadding":15,"symbolOffset":5,"labelOffset":10,"symbolSize":30,"symbolStrokeWidth":1,"labelLimit":300}}
    }
   },
   {
    "data":{"name":"fit"},
    "mark":{"type":"line","strokeWidth":2,"interpolate":"monotone","clip":true},
    "encoding":{
     "x":{"field":"x","type":"quantitative","axis":null},
     "y":{"field":"p","type":"quantitative","axis":null},
     "stroke":{"field":"s","type":"nominal","scale":{"domain":["fa","fe"],"range":["#2b50ff","#000000"]},"legend":null}
    }
   },
   {
    "data":{"values":[{"x":0,"p":2}]},
    "mark":{"type":"point","opacity":0},
    "encoding":{
     "x":{"field":"x","type":"quantitative",
      "axis":{"orient":"top","offset":-1,"title":null,"labels":false,
       "values":[-0.05,-0.04,-0.03,-0.02,-0.01,0,0.01,0.02,0.03,0.04,0.05],
       "tickSize":{"condition":{"test":"indexof([-0.05,0,0.05], datum.value) >= 0","value":-5},"value":-2.5}}},
     "y":{"field":"p","type":"quantitative",
      "axis":{"orient":"right","offset":-13,"title":null,"labels":false,
       "values":[1,2,3,4,5,6,7,8,9,10,20,30,40],
       "tickSize":{"condition":{"test":"indexof([1,10], datum.value) >= 0","value":-5},"value":-2.5}}}
    }
   }
  ],
  "resolve":{"axis":{"x":"independent","y":"independent"}}
 }
],
"resolve":{"scale":{"x":"independent","y":"independent","color":"independent","shape":"independent","stroke":"independent"},"axis":{"x":"independent","y":"independent"},"legend":{"color":"independent","shape":"independent"}}
}
